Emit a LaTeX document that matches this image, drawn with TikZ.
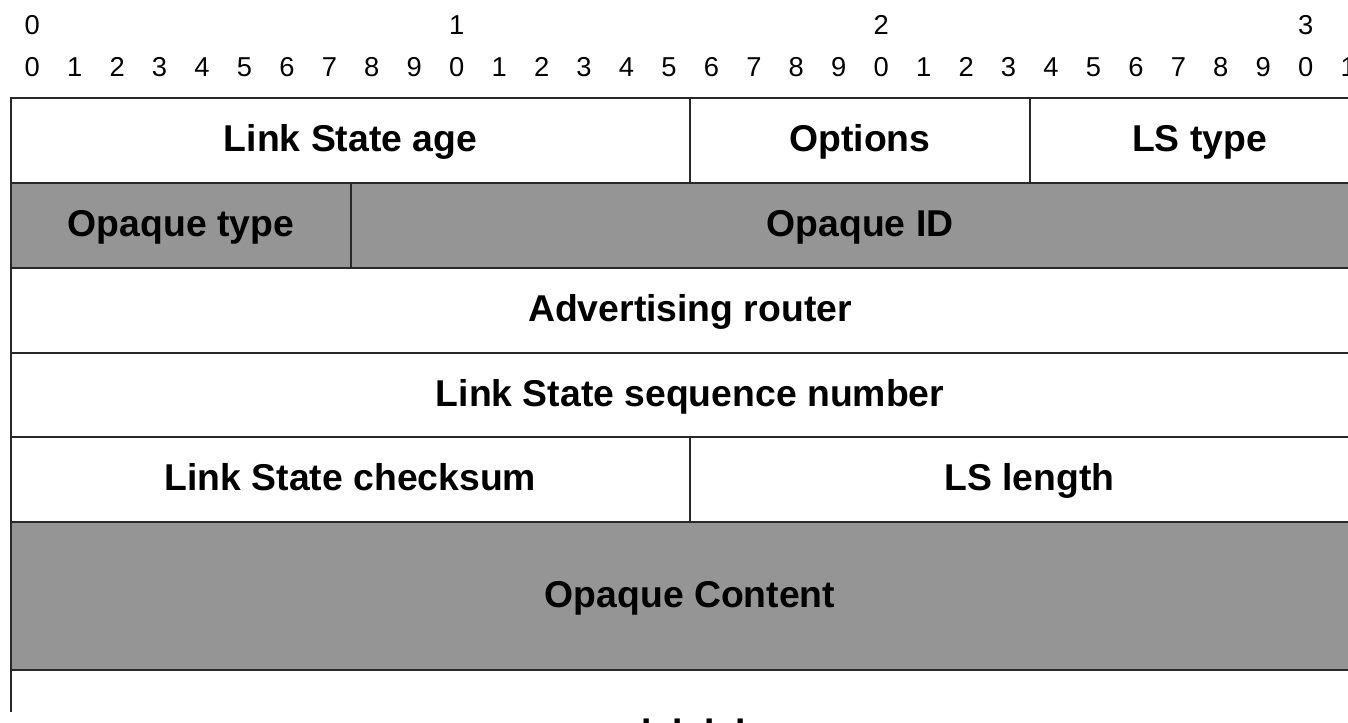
\documentclass[tikz,border=0pt]{standalone}
\usepackage{fontspec}
\setmainfont{Liberation Sans}
\definecolor{fieldgray}{RGB}{149,149,149}
\definecolor{rulegray}{RGB}{40,40,40}

\begin{document}
\begin{tikzpicture}[
    x = 0.75pt,
    y = -0.75pt,
    field/.style = {
        draw = rulegray,
        line width = 1.1pt
    },
    grayfield/.style = {
        field,
        fill = fieldgray
    },
    fieldlabel/.style = {
        font = \fontsize{28}{32}\selectfont\bfseries,
        text height = 20pt,
        text depth = 0pt,
        inner sep = 0pt
    },
    bitnum/.style = {
        font = \fontsize{20.5}{24}\selectfont,
        inner sep = 0pt
    }
]
\useasboundingbox (0,0) rectangle (1348,722);
\clip (0,0) rectangle (1348,722);

% Bit numbers (tens row, units row)
\foreach \t in {0,...,3} {
    \node[bitnum] (tens\t) at (11+424.5*\t+21.2, 25) {\t};
}
\foreach \b in {0,...,31} {
    \pgfmathtruncatemacro{\u}{mod(\b,10)}
    \node[bitnum] (bit\b) at (11+42.45*\b+21.2, 67) {\u};
}

% Row 1
\draw[field] (11,98) rectangle (690,183);
\draw[field] (690,98) rectangle (1030,183);
\draw[field] (1030,98) rectangle (1369,183);
\node[fieldlabel] (lsage) at (350.5,138.5) {Link State age};
\node[fieldlabel] (options) at (860,138.5) {Options};
\node[fieldlabel] (lstype) at (1199.5,138.5) {LS type};

% Row 2
\draw[grayfield] (11,183) rectangle (351,268);
\draw[grayfield] (351,183) rectangle (1369,268);
\node[fieldlabel] (optype) at (181,223.5) {Opaque type};
\node[fieldlabel] (opid) at (860,223.5) {Opaque ID};

% Rows 3 and 4
\draw[field] (11,268) rectangle (1369,353);
\node[fieldlabel] (advrouter) at (690,308.5) {Advertising router};
\draw[field] (11,353) rectangle (1369,437);
\node[fieldlabel] (seqnum) at (690,393) {Link State sequence number};

% Row 5
\draw[field] (11,437) rectangle (690,522);
\draw[field] (690,437) rectangle (1369,522);
\node[fieldlabel] (checksum) at (350.5,477.5) {Link State checksum};
\node[fieldlabel] (lslength) at (1029.5,477.5) {LS length};

% Opaque content
\draw[grayfield] (11,522) rectangle (1369,670);
\node[fieldlabel] (content) at (690,594) {Opaque Content};

% Open end
\draw[field] (11,670) -- (11,712);
\draw[field] (1369,670) -- (1369,712);
\foreach \d in {0,...,3} {
    \node[fieldlabel, text height=, anchor=base] (dot\d) at (646.7+31.3*\d, 724.5) {.};
}

\end{tikzpicture}
\end{document}
